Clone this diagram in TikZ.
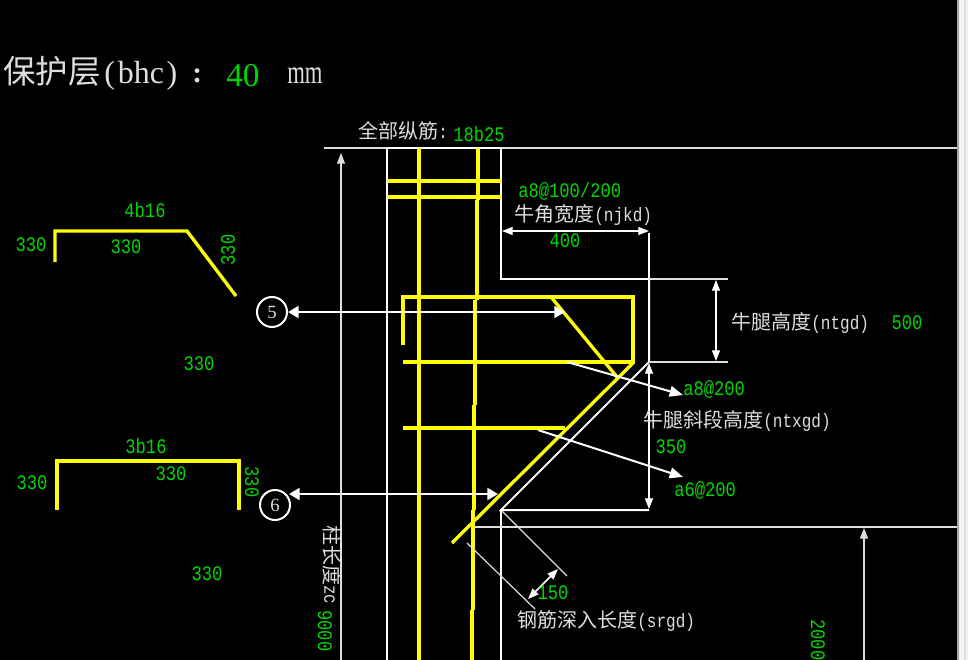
\documentclass[tikz,border=0pt]{standalone}
\usepackage{fontspec}
\setmainfont{Liberation Serif}
\newfontfamily\cjk{Noto Sans CJK SC}
\newfontfamily\cadnum[FakeStretch=0.83]{Liberation Mono}
\newfontfamily\narrowserif[FakeStretch=0.68]{Liberation Serif}
\usetikzlibrary{arrows.meta}
\definecolor{cadgreen}{RGB}{0,215,0}
\definecolor{cadyellow}{RGB}{255,255,0}
\definecolor{cadgray}{RGB}{222,222,222}
\tikzset{>={Triangle[length=8pt,width=6pt]}}
\tikzset{
  rebar/.style={draw=cadyellow,line width=2.5pt,line join=miter},
  outline/.style={draw=white,line width=1.5pt},
  thinline/.style={draw=cadgray,line width=0.9pt},
  dimline/.style={draw=white,line width=0.9pt,<->},
  markarrow/.style={draw=white,line width=1.5pt,<->,>={Triangle[length=8pt,width=9pt]}},
  leader/.style={draw=white,line width=1.5pt,->,>={Triangle[length=10pt,width=8pt]}},
  numlabel/.style={text=cadgreen,inner sep=0pt,font=\cadnum\fontsize{15.5}{15}\selectfont},
  namelabel/.style={text=cadgray,inner sep=0pt,anchor=west,font=\cadnum\fontsize{14.5}{15}\selectfont},
  circlemark/.style={circle,draw=white,line width=1.5pt,text=cadgray,inner sep=0pt,minimum size=22.5pt,font=\fontsize{14}{14}\selectfont}
}
\newcommand{\cn}[1]{{\cjk\fontsize{15}{15}\selectfont #1}}

\begin{document}
\begin{tikzpicture}[x=0.75pt,y=-0.75pt]
    \useasboundingbox (0,0) rectangle (968,660);
    \fill[black] (0,0) rectangle (968,660);
    %window edge
    \fill[gray!70] (957,0) rectangle (959,660);
    \fill[white!95!black] (959,0) rectangle (964,660);
    \fill[cadgray] (964,0) rectangle (966,660);
    \fill[white!95!black] (966,0) rectangle (968,660);
    \clip (0,0) rectangle (957,660);

    % title
    \node[namelabel,font=\fontsize{24}{24}\selectfont] (cover) at (3,73) {{\cjk\fontsize{24.3}{24}\selectfont 保护层}\hspace{3pt}(\hspace{2pt}bhc\hspace{2pt})};
    \node[namelabel,font=\bfseries\fontsize{22}{22}\selectfont] (covercolon) at (192,76) {:};
    \node[numlabel,anchor=west,font=\fontsize{25}{25}\selectfont] (coverval) at (226,76) {40};
    \node[namelabel,font=\narrowserif\fontsize{25}{25}\selectfont] (coverunit) at (287,76) {mm};

    % column
    \draw[thinline] (324,148) -- (958,148);
    \draw[outline] (387,660) -- (387,148) -- (501,148) -- (501,279) -- (649,279) -- (649,233);
    \draw[outline] (649,279) -- (649,362) -- (501,510) -- (649,510);
    \draw[outline] (501,510) -- (501,660);
    \draw[thinline] (473,527) -- (958,527);
    \draw[thinline] (649,362) -- (728,362);
    \draw[thinline] (649,279) -- (728,279);

    % main bars
    \draw[rebar] (419,148) -- (419,660);
    \draw[rebar] (478,148) -- (478,200) (477,200) -- (477,300) (475,300) -- (475,405)
                 (474,405) -- (474,510) (473,510) -- (473,610) (472,610) -- (472,660);
    \draw[rebar] (387,181) -- (501,181);
    \draw[rebar] (387,197) -- (501,197);
    \draw[rebar] (403,345) -- (403,297) -- (633,297) -- (633,362) -- (403,362);
    \draw[rebar] (551,297) -- (617,377);
    \draw[rebar] (633,363) -- (452,543);
    \draw[rebar] (403,428) -- (565,428);

    % bent bar 5
    \draw[rebar] (55,262) -- (55,231) -- (187,231) -- (236,296);
    \node[numlabel] (n5a) at (145,210) {4b16};
    \node[numlabel] (n5b) at (31,245) {330};
    \node[numlabel] (n5c) at (126,247) {330};
    \node[numlabel,rotate=90] (n5d) at (228,250) {330};
    \node[numlabel] (n5e) at (199,364) {330};

    % bent bar 6
    \draw[rebar] (57,510) -- (57,461) -- (239,461) -- (239,510);
    \node[numlabel] (n6a) at (146,446) {3b16};
    \node[numlabel] (n6b) at (32,483) {330};
    \node[numlabel] (n6c) at (171,474) {330};
    \node[numlabel,rotate=-90] (n6d) at (252,482) {330};
    \node[numlabel] (n6e) at (207,574) {330};

    % marks
    \node[circlemark] (c5) at (272,312) {5};
    \node[circlemark] (c6) at (275,505) {6};
    \coordinate (e5) at (565,312);
    \coordinate (s6) at (289,494);
    \coordinate (e6) at (498,494);
    \draw[markarrow] (c5) -- (e5);
    \draw[markarrow] (s6) -- (e6);

    % heights and widths
    \draw[dimline] (502,231) -- (649,231);
    \draw[dimline] (716,280) -- (716,361);
    \draw[dimline] (649,363) -- (649,509);
    \draw[thinline,->] (341,660) -- (341,153);
    \draw[thinline,->] (864,660) -- (864,528);

    % stirrup leaders
    \node[numlabel,anchor=west] (a8) at (683,389) {a8@200};
    \node[numlabel,anchor=west] (a6) at (674,490) {a6@200};
    \coordinate (s8) at (567,362);
    \coordinate (t8) at (683,395);
    \coordinate (s6b) at (538,430);
    \coordinate (t6) at (683,477);
    \draw[leader] (s8) -- (t8);
    \draw[leader] (s6b) -- (t6);

    % anchorage length
    \draw[thinline] (502,511) -- (567,576);
    \draw[thinline] (467,543) -- (535,609);
    \draw[dimline,line width=1.2pt] (528,599) -- (558,569);
    \node[numlabel] (n150) at (553,593) {150};

    % labels
    \node[namelabel] (allbars) at (358,131) {\cn{全部纵筋}:};
    \node[numlabel,anchor=west] (allbarsval) at (453,134) {18b25};
    \node[numlabel,anchor=west] (stirrup) at (518,191) {a8@100/200};
    \node[namelabel] (njkd) at (514,215) {\cn{牛角宽度}(njkd)};
    \node[numlabel] (n400) at (565,241) {400};
    \node[namelabel] (ntgd) at (731,323) {\cn{牛腿高度}(ntgd)};
    \node[numlabel] (n500) at (907,323) {500};
    \node[namelabel] (ntxgd) at (643,421) {\cn{牛腿斜段高度}(ntxgd)};
    \node[numlabel] (n350) at (671,447) {350};
    \node[namelabel] (srgd) at (517,621) {\cn{钢筋深入长度}(srgd)};
    \node[namelabel,rotate=-90,anchor=west] (zc) at (332,525) {\cn{柱长度}zc};
    \node[numlabel,rotate=-90,anchor=west] (n9000) at (325,610) {9000};
    \node[numlabel,rotate=-90,anchor=west] (n2000) at (818,619) {2000};
\end{tikzpicture}
\end{document}
